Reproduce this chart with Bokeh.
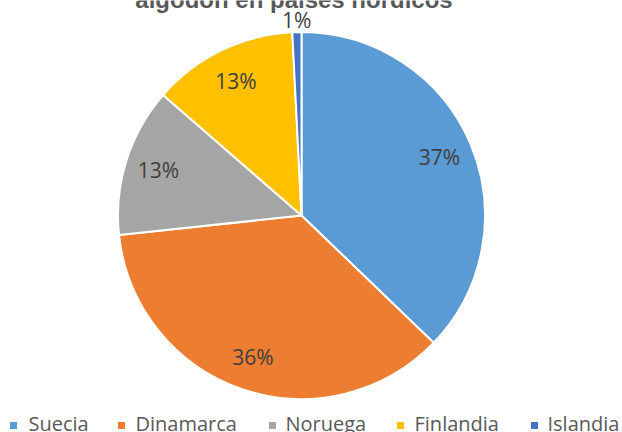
import math
from bokeh.plotting import figure
from bokeh.models import ColumnDataSource, Range1d, Label
from bokeh.core.properties import value
from bokeh.embed import file_html
from bokeh.resources import INLINE

# ---- data ----
countries = ["Suecia", "Dinamarca", "Noruega", "Finlandia", "Islandia"]
shares = [37.2, 36.1, 13.1, 12.8, 0.8]
pct_labels = ["37%", "36%", "13%", "13%", "1%"]
colors = ["#5B9BD5", "#ED7D31", "#A5A5A5", "#FFC000", "#4472C4"]
title_text = "algodón en países nórdicos"

# ---- layout (pixels) ----
W, H = 622, 432
cx, cy, R = 301, H - 215, 183.5

p = figure(width=W, height=H, output_backend="svg", toolbar_location=None,
           x_range=Range1d(0, W), y_range=Range1d(0, H),
           x_axis_type=None, y_axis_type=None, min_border=0)
p.outline_line_color = None
p.grid.visible = False
p.background_fill_color = "white"
p.border_fill_color = "white"

total = sum(shares)
starts, ends, lx, ly = [], [], [], []
cum = 0.0
for i, s in enumerate(shares):
    a0 = cum / total * 2 * math.pi
    cum += s
    a1 = cum / total * 2 * math.pi
    starts.append(math.pi / 2 - a0)
    ends.append(math.pi / 2 - a1)
    mid = (a0 + a1) / 2
    r = 150 if s > 2 else 196
    lx.append(cx + r * math.sin(mid))
    ly.append(cy + r * math.cos(mid))

src = ColumnDataSource(dict(start=starts, end=ends, color=colors,
                            name=countries, lx=lx, ly=ly, lab=pct_labels))
p.wedge(x=cx, y=cy, radius=R, start_angle="start", end_angle="end",
        direction="clock", fill_color="color", line_color="white",
        line_width=2, source=src)

p.text(x="lx", y="ly", text="lab", source=src, text_align="center",
       text_baseline="middle", text_font=value("Open Sans"),
       text_font_size="21px", text_color="#404040")

# title (partly cut by top edge, as in the reference)
p.add_layout(Label(x=293.5, y=H + 1.5, text=title_text, text_align="center",
                   text_baseline="middle", text_font="Liberation Sans",
                   text_font_style="bold", text_font_size="24px",
                   text_color="#595959"))

# legend
sq_x = [13, 121, 272, 400, 534]
txt_x = [28, 135, 285, 414, 547]
leg = ColumnDataSource(dict(sx=sq_x, sy=[H - 425] * 5, tx=txt_x,
                            ty=[H - 423] * 5, name=countries, color=colors))
p.scatter(x="sx", y="sy", marker="square", size=7, fill_color="color",
          line_color=None, source=leg)
p.text(x="tx", y="ty", text="name", source=leg, text_align="left",
       text_baseline="middle", text_font=value("Open Sans"),
       text_font_size="20px", text_color="#595959")

open("out.html", "w").write(file_html(p, INLINE))
